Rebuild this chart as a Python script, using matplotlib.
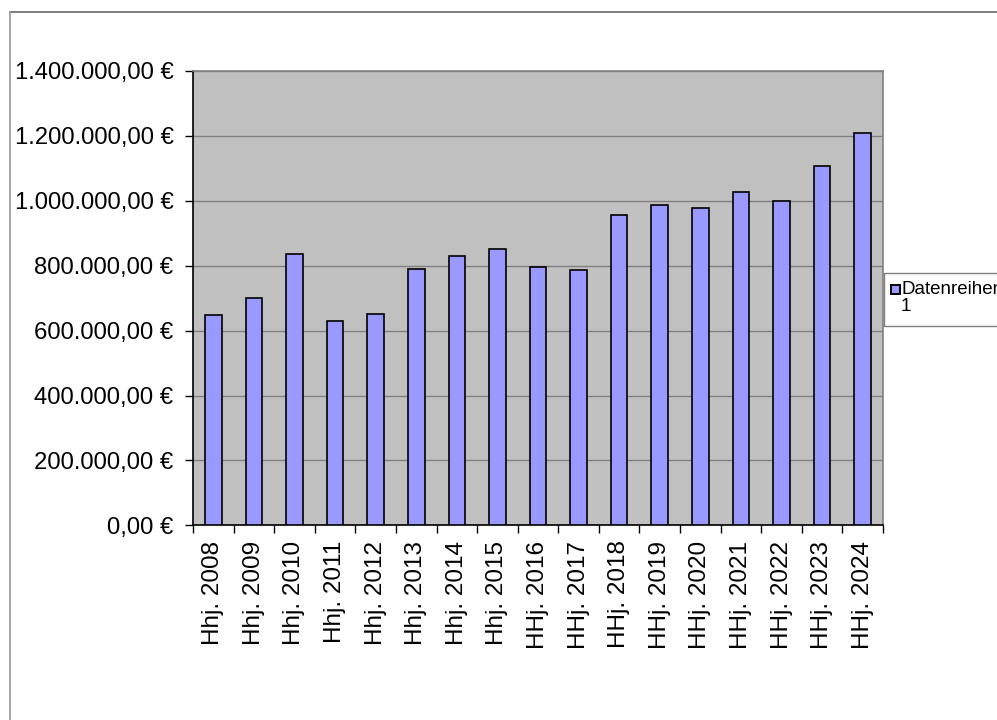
import matplotlib.pyplot as plt
from matplotlib.lines import Line2D
from matplotlib.patches import Rectangle
from matplotlib.ticker import FuncFormatter, FixedLocator

plt.rcParams['font.family'] = ['Liberation Sans', 'DejaVu Sans']

labels = ["Hhj. 2008", "Hhj. 2009", "Hhj. 2010", "Hhj. 2011", "Hhj. 2012",
          "Hhj. 2013", "Hhj. 2014", "Hhj. 2015", "HHj. 2016", "HHj. 2017",
          "HHj. 2018", "HHj. 2019", "HHj. 2020", "HHj. 2021", "HHj. 2022",
          "HHj. 2023", "HHj. 2024"]
values = [648000, 701000, 836000, 630000, 651000, 791000, 831000, 851000,
          797000, 787000, 956000, 987000, 979000, 1028000, 999000, 1106000,
          1209000]
series_name = "Datenreihen\n1"


def euro(v, pos):
    s = f"{v:,.2f}"
    s = s.replace(",", "X").replace(".", ",").replace("X", ".")
    return s + " €"


W, H = 997, 720
fig = plt.figure(figsize=(W / 100, H / 100), dpi=100)
ax = fig.add_axes([193 / W, 1 - 525.3 / H, (883 - 193) / W, (525.3 - 71) / H])
ax.set_facecolor("#C0C0C0")

x = list(range(len(values)))
bars = ax.bar(x, values, width=0.41, color="#9999FF", edgecolor="black",
              linewidth=1.2, zorder=3)

ax.set_xlim(-0.5, len(values) - 0.5)
ax.set_ylim(0, 1400000)
ax.set_yticks(range(0, 1400001, 200000))
ax.yaxis.set_major_formatter(FuncFormatter(euro))
ax.yaxis.grid(True, color="#808080", linewidth=1.0, zorder=1)

ax.set_xticks(x)
ax.set_xticklabels(labels, rotation=90)
ax.xaxis.set_minor_locator(FixedLocator([i - 0.5 for i in range(len(values) + 1)]))
ax.tick_params(axis="x", which="major", length=0, pad=11, labelsize=17.5)
ax.tick_params(axis="x", which="minor", length=6, width=1, color="black")
ax.tick_params(axis="y", length=6, width=1, pad=8, labelsize=17.2)

for side in ("left", "bottom"):
    ax.spines[side].set_color("black")
    ax.spines[side].set_linewidth(1.2)
for side in ("top", "right"):
    ax.spines[side].set_color("#808080")
    ax.spines[side].set_linewidth(1.2)

# outer chart frame (partly cut off by the image edge)
fig.add_artist(Line2D([9.5 / W, 1], [1 - 12 / H, 1 - 12 / H],
                      transform=fig.transFigure, color="#666666", linewidth=1.2))
fig.add_artist(Line2D([9.5 / W, 9.5 / W], [0, 1 - 12 / H],
                      transform=fig.transFigure, color="#999999", linewidth=1.2))

# legend box, cut off on the right like in the original
fig.add_artist(Rectangle((884 / W, 1 - 326 / H), 200 / W, 53 / H,
                         transform=fig.transFigure, facecolor="white",
                         edgecolor="#808080", linewidth=1.0))
fig.add_artist(Rectangle((891 / W, 1 - 294 / H), 9 / W, 9 / H,
                         transform=fig.transFigure, facecolor="#9999FF",
                         edgecolor="black", linewidth=1.4))
fig.text(901 / W, 1 - 298 / H, series_name, fontsize=13.5, va="center",
         ha="left", linespacing=1.05)

fig.savefig("out.png", dpi=100)
